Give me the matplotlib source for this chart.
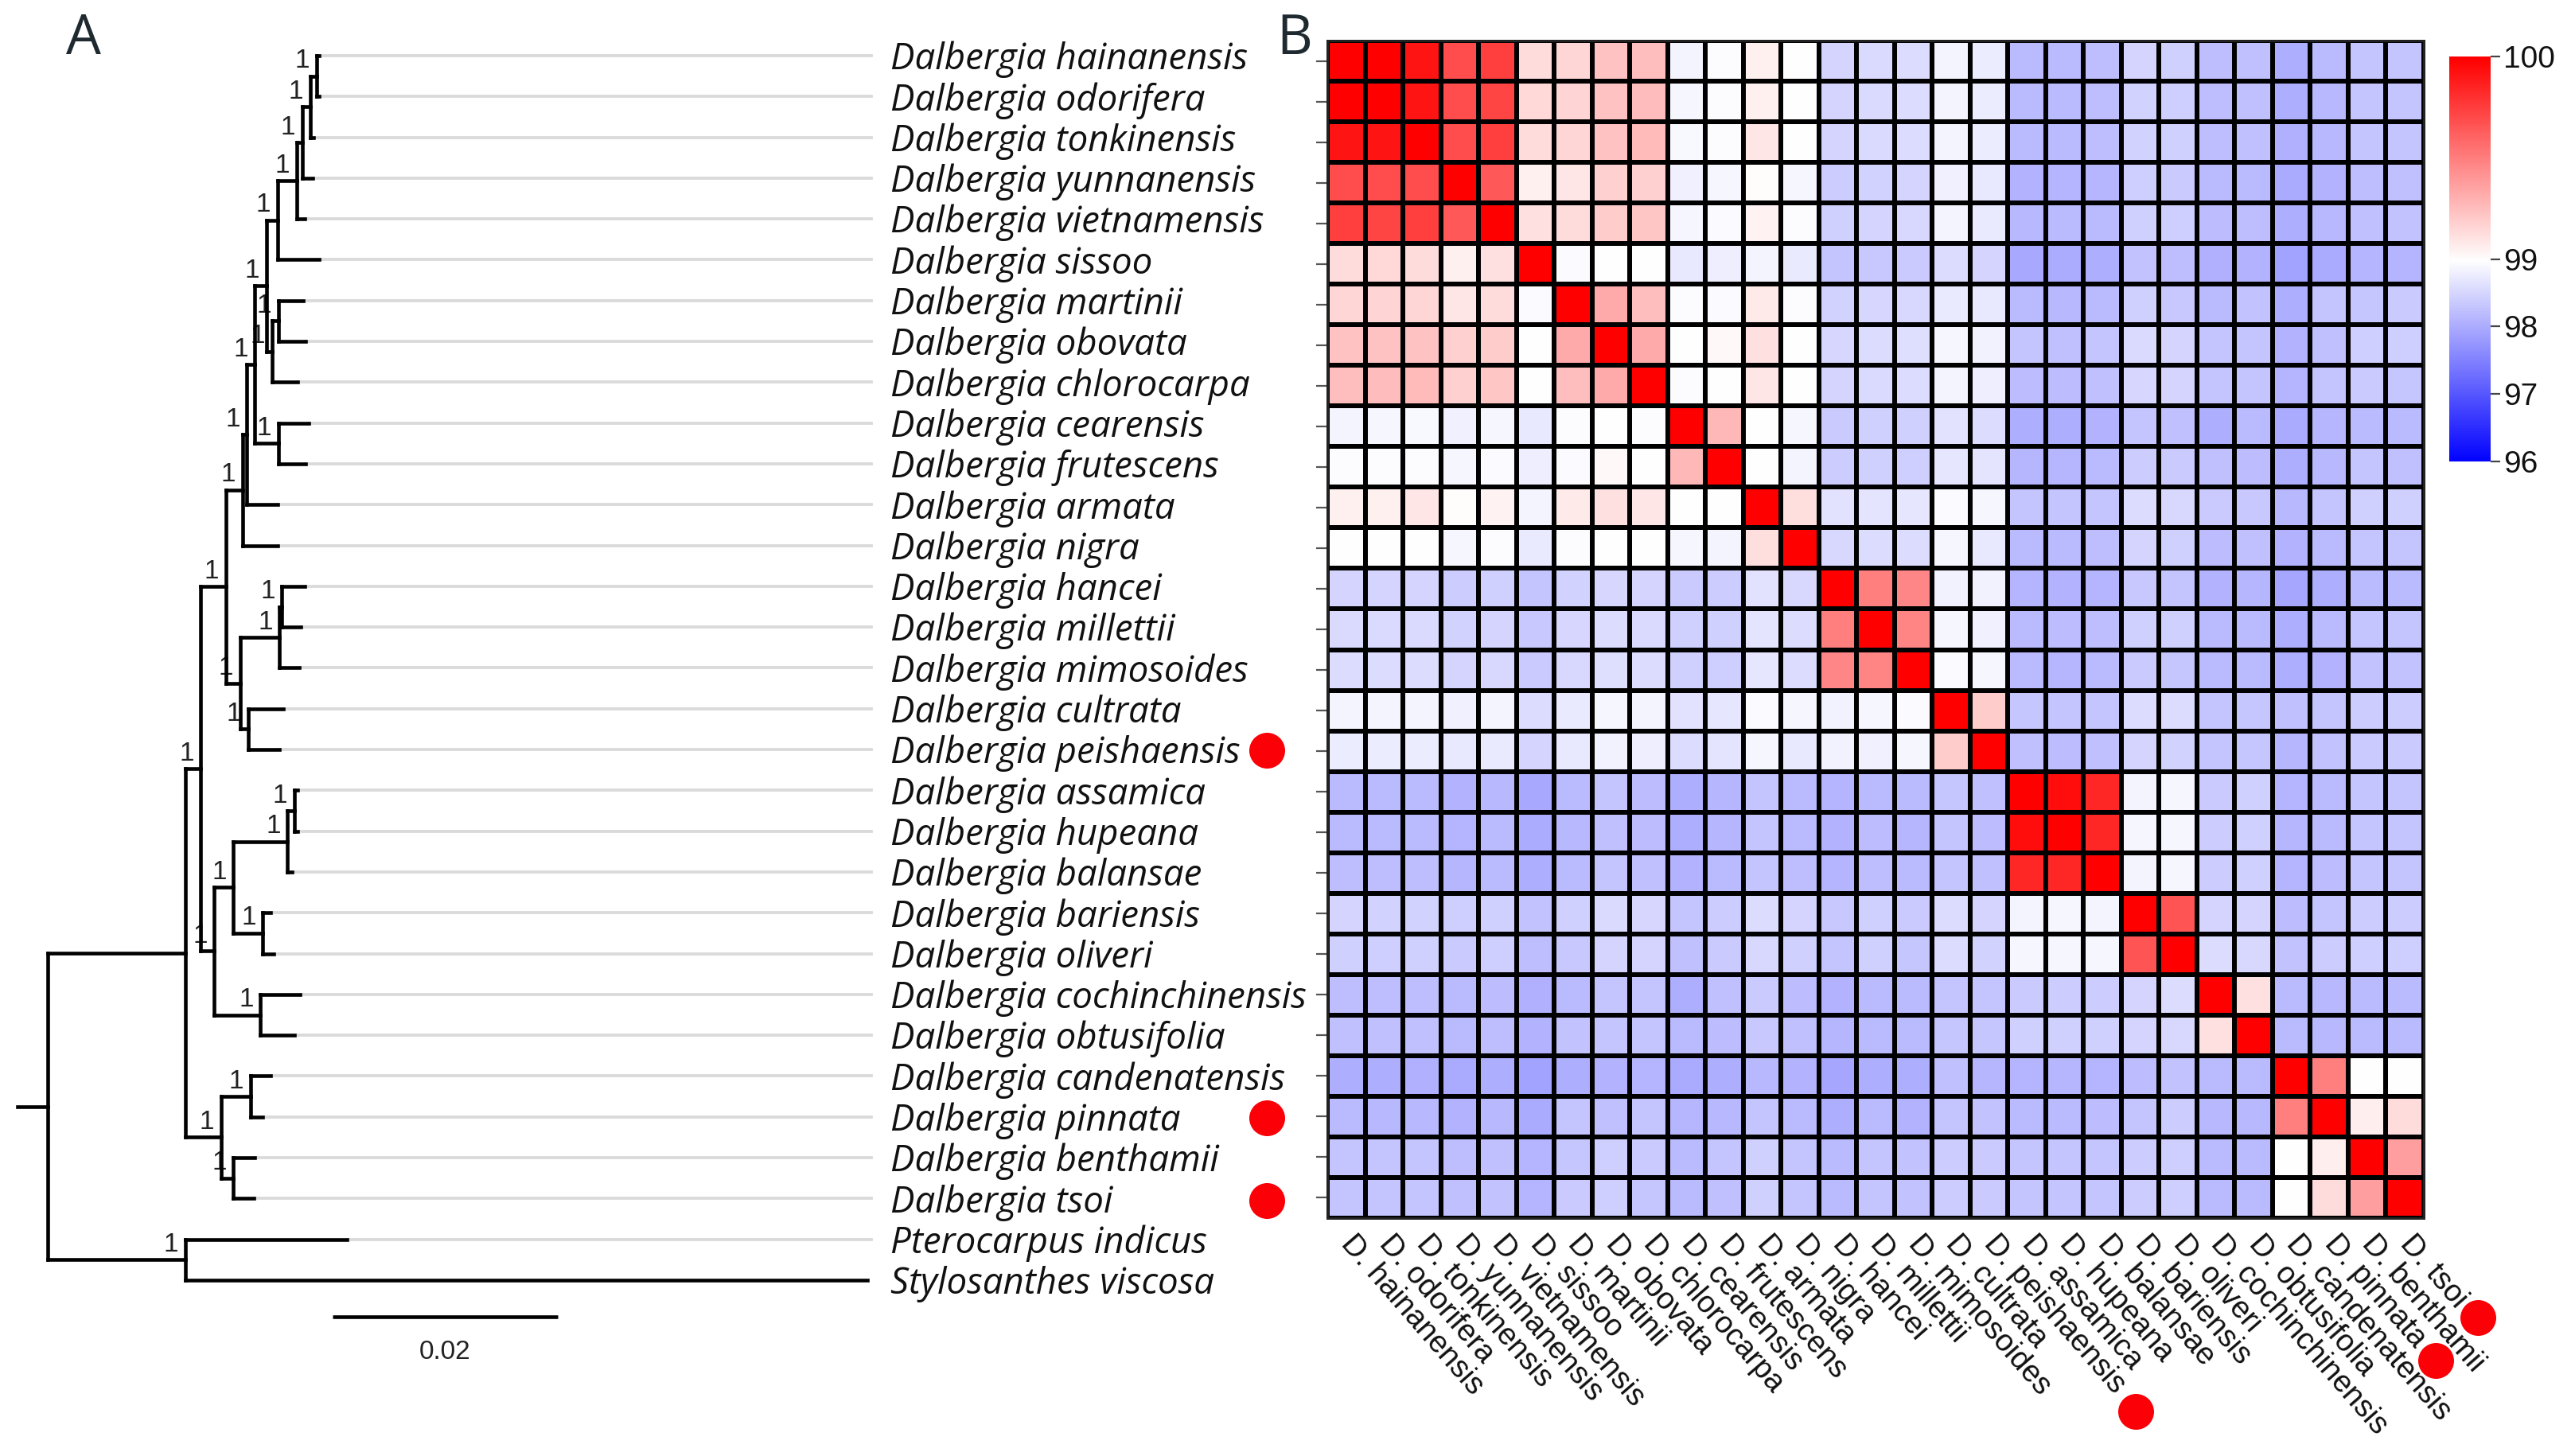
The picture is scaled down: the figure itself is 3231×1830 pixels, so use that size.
import numpy as np
import matplotlib
matplotlib.use("Agg")
import matplotlib.pyplot as plt
from matplotlib.colors import TwoSlopeNorm

W, H = 3231, 1830
SANS = "Liberation Sans"
SPECIES_FONT = "Open Sans"

tree_names = ["Dalbergia hainanensis", "Dalbergia odorifera", "Dalbergia tonkinensis", "Dalbergia yunnanensis",
              "Dalbergia vietnamensis", "Dalbergia sissoo", "Dalbergia martinii", "Dalbergia obovata",
              "Dalbergia chlorocarpa", "Dalbergia cearensis", "Dalbergia frutescens", "Dalbergia armata",
              "Dalbergia nigra", "Dalbergia hancei", "Dalbergia millettii", "Dalbergia mimosoides",
              "Dalbergia cultrata", "Dalbergia peishaensis", "Dalbergia assamica", "Dalbergia hupeana",
              "Dalbergia balansae", "Dalbergia bariensis", "Dalbergia oliveri", "Dalbergia cochinchinensis",
              "Dalbergia obtusifolia", "Dalbergia candenatensis", "Dalbergia pinnata", "Dalbergia benthamii",
              "Dalbergia tsoi", "Pterocarpus indicus", "Stylosanthes viscosa"]
heat_names = ["D. " + n.split()[1] for n in tree_names[:29]]

# Tree: [node depth, child, child]; plain number = tip depth (divergence x 1000)
clade_hainan = [20.4, [22.1, [22.6, [23.3, [23.9, 24.1, 24.1], 23.6], 23.5], 22.8], 24.1]
clade_martinii = [19.9, [20.5, 22.7, 22.9], 22.2]
clade_cearensis = [20.5, 23.2, 22.9]
clade_a = [17.3, [17.7, [18.4, [19.4, clade_hainan, clade_martinii], clade_cearensis], 20.4], 20.4]
clade_b = [17.1, [20.6, [20.8, 22.8, 22.5], 22.3], [17.8, 20.9, 20.6]]
clade_c = [14.8, [16.5, [21.3, [21.9, 22.2, 22.2], 21.7], [19.1, 19.8, 20.1]], [18.9, 22.4, 21.9]]
clade_d = [15.4, [18.0, 19.8, 19.1], [16.5, 18.4, 18.3]]
ingroup = [12.2, [13.6, [15.8, clade_a, clade_b], clade_c], clade_d]
outgroup = [12.2, 26.6, 72.8]
tree = [0.0, ingroup, outgroup]
stem_start = -2.7
scale_bar = 20.0
scale_label = "0.02"

# Pairwise identity (%), upper triangle, each row starts on the diagonal
tail_0 = [98.88, 98.77, 98.18, 98.2, 98.24, 98.5, 98.45, 98.24, 98.26, 98.06, 98.18, 98.3, 98.3]
tail_1 = [98.88, 98.78, 98.2, 98.2, 98.24, 98.47, 98.42, 98.24, 98.26, 98.06, 98.16, 98.3, 98.3]
tail_2 = [98.88, 98.78, 98.2, 98.2, 98.24, 98.48, 98.44, 98.24, 98.26, 98.08, 98.17, 98.3, 98.3]
tail_3 = [98.82, 98.72, 98.1, 98.13, 98.15, 98.42, 98.38, 98.18, 98.2, 98.0, 98.1, 98.24, 98.25]
tail_4 = [98.86, 98.76, 98.16, 98.18, 98.2, 98.46, 98.42, 98.22, 98.24, 98.05, 98.16, 98.26, 98.28]
tail_5 = [98.6, 98.5, 97.98, 98.03, 98.05, 98.28, 98.24, 98.07, 98.1, 97.9, 98.0, 98.12, 98.12]
tail_6 = [98.75, 98.72, 98.18, 98.17, 98.2, 98.46, 98.36, 98.18, 98.28, 98.05, 98.3, 98.34, 98.38]
tail_7 = [98.9, 98.85, 98.3, 98.27, 98.3, 98.56, 98.5, 98.3, 98.3, 98.1, 98.26, 98.42, 98.42]
tail_8 = [98.88, 98.8, 98.22, 98.22, 98.25, 98.52, 98.5, 98.3, 98.3, 98.12, 98.3, 98.38, 98.34]
tail_9 = [98.65, 98.6, 98.05, 98.06, 98.1, 98.32, 98.26, 98.06, 98.2, 98.0, 98.14, 98.2, 98.2]
tail_10 = [98.7, 98.68, 98.15, 98.15, 98.18, 98.4, 98.38, 98.26, 98.22, 98.04, 98.16, 98.3, 98.26]
tail_11 = [98.95, 98.9, 98.3, 98.3, 98.32, 98.6, 98.55, 98.38, 98.36, 98.16, 98.3, 98.45, 98.46]
tail_12 = [98.9, 98.74, 98.18, 98.2, 98.24, 98.5, 98.46, 98.22, 98.26, 98.1, 98.2, 98.3, 98.3]
tail_13 = [98.84, 98.84, 98.12, 98.1, 98.12, 98.35, 98.32, 98.1, 98.15, 97.95, 98.04, 98.2, 98.2]
tail_14 = [98.9, 98.82, 98.2, 98.22, 98.24, 98.44, 98.44, 98.2, 98.2, 98.06, 98.18, 98.3, 98.3]

identity_rows = [
    [100, 100, 99.92, 99.7, 99.75, 99.14, 99.16, 99.24, 99.25, 98.88, 98.96, 99.06, 98.98, 98.5, 98.56, 98.6] + tail_0,
    [100, 99.92, 99.7, 99.73, 99.15, 99.17, 99.24, 99.26, 98.9, 98.97, 99.06, 98.98, 98.5, 98.56, 98.6] + tail_1,
    [100, 99.7, 99.75, 99.14, 99.16, 99.24, 99.27, 98.92, 98.97, 99.1, 98.98, 98.5, 98.56, 98.58] + tail_2,
    [100, 99.65, 99.06, 99.1, 99.18, 99.18, 98.82, 98.9, 99.01, 98.9, 98.4, 98.47, 98.5] + tail_3,
    [100, 99.12, 99.14, 99.2, 99.22, 98.9, 98.95, 99.05, 98.96, 98.46, 98.5, 98.54] + tail_4,
    [100, 98.95, 99.0, 99.0, 98.72, 98.8, 98.88, 98.75, 98.3, 98.36, 98.38] + tail_5,
    [100, 99.33, 99.25, 98.96, 98.95, 99.08, 98.97, 98.47, 98.52, 98.55] + tail_6,
    [100, 99.33, 99.0, 99.03, 99.12, 99.0, 98.52, 98.58, 98.62] + tail_7,
    [100, 98.97, 99.0, 99.1, 99.0, 98.5, 98.56, 98.58] + tail_8,
    [100, 99.28, 99.0, 98.9, 98.38, 98.46, 98.44] + tail_9,
    [100, 99.0, 98.88, 98.4, 98.46, 98.42] + tail_10,
    [100, 99.13, 98.65, 98.68, 98.7] + tail_11,
    [100, 98.55, 98.58, 98.6] + tail_12,
    [100, 99.5, 99.47] + tail_13,
    [100, 99.48] + tail_14,
    [100, 98.93, 98.9, 98.18, 98.14, 98.18, 98.38, 98.34, 98.2, 98.2, 98.04, 98.1, 98.28, 98.28],
    [100, 99.2, 98.34, 98.3, 98.32, 98.6, 98.6, 98.3, 98.34, 98.25, 98.3, 98.4, 98.4],
    [100, 98.26, 98.22, 98.25, 98.5, 98.48, 98.3, 98.34, 98.15, 98.28, 98.38, 98.38],
    [100, 99.95, 99.85, 98.88, 98.9, 98.38, 98.45, 98.12, 98.2, 98.3, 98.3],
    [100, 99.85, 98.9, 98.9, 98.4, 98.44, 98.14, 98.2, 98.3, 98.3],
    [100, 98.88, 98.9, 98.4, 98.46, 98.12, 98.22, 98.3, 98.32],
    [100, 99.67, 98.5, 98.5, 98.22, 98.3, 98.4, 98.4],
    [100, 98.58, 98.55, 98.28, 98.4, 98.42, 98.42],
    [100, 99.12, 98.18, 98.16, 98.2, 98.2],
    [100, 98.2, 98.17, 98.2, 98.2],
    [100, 99.5, 99.0, 99.0],
    [100, 99.07, 99.14],
    [100, 99.38],
    [100],
]
cbar_ticks = [96, 97, 98, 99, 100]

plt.rcParams["font.family"] = [SANS, "DejaVu Sans"]
fig = plt.figure(figsize=(W / 100, H / 100), dpi=100, facecolor="white")
PX = 72 / 100


def axes_px(l, t, r, b):
    return fig.add_axes([l / W, 1 - b / H, (r - l) / W, (b - t) / H])


# ---------- Panel A: tree ----------
ax_t = axes_px(0, 0, 1100, H)
ax_t.set_xlim(-60 / 14.15, (1100 - 60) / 14.15)
ax_t.set_ylim((H - 70) / 51.3, -70 / 51.3)
ax_t.axis("off")
BLACK_LW = 4.6 * PX
counter = [0]


def draw(node, parent_depth):
    if not isinstance(node, list):
        row = counter[0]
        counter[0] += 1
        ax_t.plot([parent_depth, node], [row, row], color="black", lw=BLACK_LW,
                  solid_capstyle="projecting", zorder=3)
        if row < len(tree_names) - 1:
            ax_t.plot([node, (1095 - 60) / 14.15], [row, row], color="#dadada", lw=3.8 * PX, zorder=1)
        return row
    ys = [draw(ch, node[0]) for ch in node[1:]]
    y = float(np.mean([ys[0], ys[-1]]))
    ax_t.plot([node[0], node[0]], [ys[0], ys[-1]], color="black", lw=BLACK_LW,
              solid_capstyle="projecting", zorder=3)
    ax_t.plot([parent_depth, node[0]], [y, y], color="black", lw=BLACK_LW,
              solid_capstyle="projecting", zorder=3)
    if node is not tree and node is not ingroup:
        ax_t.annotate("1", (node[0], y), xytext=(-18 * PX, 19 * PX), textcoords="offset points",
                      ha="center", va="center", fontsize=24, color="#222222", zorder=2)
    return y


draw(tree, stem_start)

ax_t.plot([25.3, 25.3 + scale_bar], [30.9, 30.9], color="black", lw=4.6 * PX, solid_capstyle="butt")
ax_t.text(25.3 + scale_bar / 2, 31.76, scale_label, ha="center", va="center", fontsize=24, color="#222222")

# species labels
for i, name in enumerate(tree_names):
    ax_t.annotate(name, (0, i), xycoords=("axes fraction", "data"), xytext=(1119, -5), textcoords="offset pixels",
                  ha="left", va="center", fontsize=32.9, style="italic", family=SPECIES_FONT,
                  color="#111111", annotation_clip=False)

# ---------- Panel B: heatmap ----------
n = len(heat_names)
matrix = np.zeros((n, n))
for i, row in enumerate(identity_rows):
    matrix[i, i:] = row
    matrix[i:, i] = row

norm = TwoSlopeNorm(vmin=96, vcenter=99, vmax=100)
ax_h = axes_px(1668, 51, 3046, 1531)
mesh = ax_h.pcolormesh(np.arange(n + 1), np.arange(n + 1), matrix, cmap="bwr", norm=norm,
                       edgecolors="black", linewidth=5.5 * PX)
ax_h.set_xlim(0, n)
ax_h.set_ylim(n, 0)
ax_h.set_yticks(np.arange(n) + 0.5)
ax_h.set_yticklabels([])
ax_h.tick_params(axis="y", length=14 * PX, width=2.2 * PX, color="#555555")
ax_h.set_xticks(np.arange(n) + 0.5)
ax_h.set_xticklabels(heat_names, rotation=-49, ha="left", va="center", rotation_mode="anchor",
                     fontsize=27.5, color="#111111")
ax_h.tick_params(axis="x", length=0, pad=26 * PX)
for s in ax_h.spines.values():
    s.set_linewidth(3 * PX)
    s.set_color("#222222")

# colour bar
ax_c = axes_px(3078, 71, 3130, 580)
cb = fig.colorbar(mesh, cax=ax_c, ticks=cbar_ticks)
cb.outline.set_visible(False)
cb.solids.set_edgecolor("face")
cb.ax.tick_params(length=12 * PX, width=2.2 * PX, color="#444444", labelsize=28, pad=3, labelcolor="#111111")
cb.ax.minorticks_off()

# ---------- Overlay: panel letters and red dots ----------
ov = axes_px(0, 0, W, H)
ov.set_xlim(0, W)
ov.set_ylim(H, 0)
ov.axis("off")
ov.patch.set_alpha(0)
ov.text(105, 50, "A", ha="center", va="center", fontsize=50, color="#1f2a30", family=SPECIES_FONT)
ov.text(1627, 50, "B", ha="center", va="center", fontsize=50, color="#1f2a30", family=SPECIES_FONT)
dot_x = [1592, 1592, 1592, 3114, 3061, 2684]
dot_y = [943, 1405, 1509, 1656, 1710, 1774]
ov.scatter(dot_x, dot_y, s=(45 * PX) ** 2, color="#fb0007", linewidths=0, zorder=5)

fig.savefig("out.png", dpi=100, facecolor="white")
